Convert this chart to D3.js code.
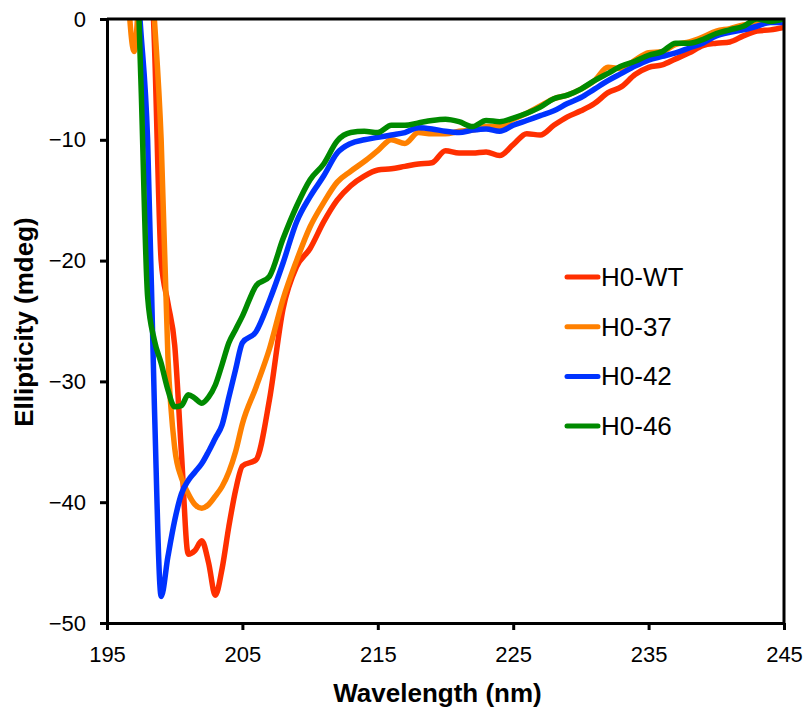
<!DOCTYPE html>
<html>
<head>
<meta charset="utf-8">
<script src="https://cdn.jsdelivr.net/npm/d3@7"></script>
<style>
  body { margin: 0; background: #fff; }
  svg { display: block; font-family: "Liberation Sans", Arial, sans-serif; }
</style>
</head>
<body>
<div id="chart"></div>
<script>
// wavelength grid (nm)
const wavelengths = [196.5, 197, 197.5, 198, 198.5, 199, 199.5, 200, 200.5, 201, 201.5, 202, 202.5, 203, 203.5, 204, 204.5, 205,
  206, 207, 208, 209, 210, 211, 212, 213, 214, 215, 216, 217, 218, 219, 220, 221, 222, 223, 224, 225,
  226, 227, 228, 229, 230, 231, 232, 233, 234, 235, 236, 237, 238, 239, 240, 241, 242, 243, 244, 245];

const seriesNames = ["H0-WT", "H0-37", "H0-42", "H0-46"];

const wtValues = [8, 8, 7, 10, -2, -20, -23.5, -27, -36, -44.3, -44, -43.2, -45, -47.7, -45.5, -42, -39, -37,
  -36.5, -31.5, -24, -20.5, -19, -16.8, -15, -13.8, -13, -12.5, -12.4, -12.2, -12.0, -11.9, -10.9, -11.1, -11.1, -11.0, -11.3, -10.4,
  -9.5, -9.6, -8.8, -8.1, -7.6, -7.0, -6.1, -5.6, -4.6, -4.0, -3.8, -3.3, -2.8, -2.2, -2.0, -1.9, -1.4, -1.0, -0.9, -0.7];

const h37Values = [3, -2.7, 4, 8, 0, -10, -28, -35.5, -38, -39.3, -40.2, -40.5, -40.2, -39.5, -38.7, -37.5, -35.8, -33.5,
  -30.5, -27.3, -23.2, -20, -17.2, -15.2, -13.5, -12.6, -11.8, -10.9, -10.0, -10.3, -9.4, -9.5, -9.5, -9.3, -9.2, -8.9, -8.9, -8.3,
  -7.8, -7.2, -6.6, -6.3, -5.8, -5.1, -4.0, -4.1, -3.4, -2.8, -2.7, -2.1, -1.9, -1.5, -1.0, -0.8, -0.5, -0.4, -0.2, -0.2];

const h42Values = [10, 6, -1, -10, -32, -47.8, -44.5, -41.5, -39.3, -38.2, -37.5, -36.8, -35.8, -34.7, -33.6, -31.3, -29, -26.8,
  -25.9, -23.3, -20.2, -16.8, -14.7, -13.0, -11.1, -10.3, -10.0, -9.8, -9.6, -9.4, -9.0, -9.1, -9.3, -9.4, -9.2, -9.1, -9.3, -8.8,
  -8.4, -8.0, -7.6, -7.0, -6.5, -5.8, -5.1, -4.5, -3.9, -3.4, -3.1, -2.8, -2.4, -2.0, -1.4, -1.1, -0.9, -0.6, -0.3, -0.3];

const h46Values = [10, 10, -5, -23, -26.6, -28.5, -30.7, -32.1, -32.0, -31.1, -31.4, -31.8, -31.3, -30.3, -28.6, -26.8, -25.7, -24.6,
  -22.1, -21.3, -18.2, -15.5, -13.3, -12.0, -10.1, -9.4, -9.3, -9.4, -8.8, -8.8, -8.6, -8.4, -8.3, -8.5, -8.9, -8.4, -8.5, -8.2,
  -7.8, -7.3, -6.6, -6.3, -5.8, -5.1, -4.5, -3.9, -3.5, -3.0, -2.7, -2.0, -2.0, -1.7, -1.2, -0.9, -0.6, 0, -0.2, 0];

const xTicks = [195, 205, 215, 225, 235, 245];
const yTicks = [0, -10, -20, -30, -40, -50];

const colors = ["#ff2f00", "#ff8000", "#0033ff", "#008a00"];
const allValues = [wtValues, h37Values, h42Values, h46Values];

const W = 809, H = 710;
const margin = { left: 107, right: 25, top: 19, bottom: 87 };
const innerW = W - margin.left - margin.right;
const innerH = H - margin.top - margin.bottom;

const svg = d3.select("#chart").append("svg")
  .attr("width", W)
  .attr("height", H);

const x = d3.scaleLinear().domain([195, 245]).range([margin.left, margin.left + innerW]);
const y = d3.scaleLinear().domain([-50, 0]).range([margin.top + innerH, margin.top]);

svg.append("clipPath").attr("id", "plot-clip")
  .append("rect")
  .attr("x", margin.left).attr("y", margin.top)
  .attr("width", innerW).attr("height", innerH);

// curves
const line = d3.line()
  .x((d, i) => x(wavelengths[i]))
  .y(d => y(d))
  .curve(d3.curveMonotoneX);

svg.append("g")
  .attr("clip-path", "url(#plot-clip)")
  .selectAll("path")
  .data(allValues)
  .join("path")
  .attr("d", line)
  .attr("fill", "none")
  .attr("stroke", (d, i) => colors[i])
  .attr("stroke-width", 5.5)
  .attr("stroke-linejoin", "round");

// frame (top + right)
svg.append("path")
  .attr("d", `M${margin.left},${margin.top}H${margin.left + innerW}V${margin.top + innerH}`)
  .attr("fill", "none")
  .attr("stroke", "#000")
  .attr("stroke-width", 3);

// axes
const xAxis = svg.append("g")
  .attr("transform", `translate(0,${margin.top + innerH})`)
  .call(d3.axisBottom(x).tickValues(xTicks).tickSize(7).tickPadding(16).tickSizeOuter(0));

const yAxis = svg.append("g")
  .attr("transform", `translate(${margin.left},0)`)
  .call(d3.axisLeft(y).tickValues(yTicks).tickSize(7).tickPadding(14).tickSizeOuter(0));

[xAxis, yAxis].forEach(g => {
  g.select(".domain").attr("stroke-width", 3);
  g.selectAll(".tick line").attr("stroke-width", 3);
  g.selectAll(".tick text")
    .attr("font-size", 22)
    .attr("font-family", "'Liberation Sans', Arial, sans-serif")
    .attr("fill", "#000");
});

// axis titles
svg.append("text")
  .attr("x", margin.left + innerW / 2 - 8)
  .attr("y", 702)
  .attr("text-anchor", "middle")
  .attr("font-size", 26)
  .attr("font-weight", "bold")
  .text("Wavelength (nm)");

svg.append("text")
  .attr("transform", "translate(33,322) rotate(-90)")
  .attr("text-anchor", "middle")
  .attr("font-size", 26)
  .attr("font-weight", "bold")
  .text("Ellipticity (mdeg)");

// legend
const legend = svg.append("g").attr("transform", "translate(567,277)");
const item = legend.selectAll("g")
  .data(seriesNames)
  .join("g")
  .attr("transform", (d, i) => `translate(0,${i * 49.7})`);

item.append("line")
  .attr("x1", 0).attr("x2", 31)
  .attr("stroke", (d, i) => colors[i])
  .attr("stroke-width", 5)
  .attr("stroke-linecap", "round");

item.append("text")
  .attr("x", 34)
  .attr("y", 9)
  .attr("font-size", 26)
  .text(d => d);
</script>
</body>
</html>
